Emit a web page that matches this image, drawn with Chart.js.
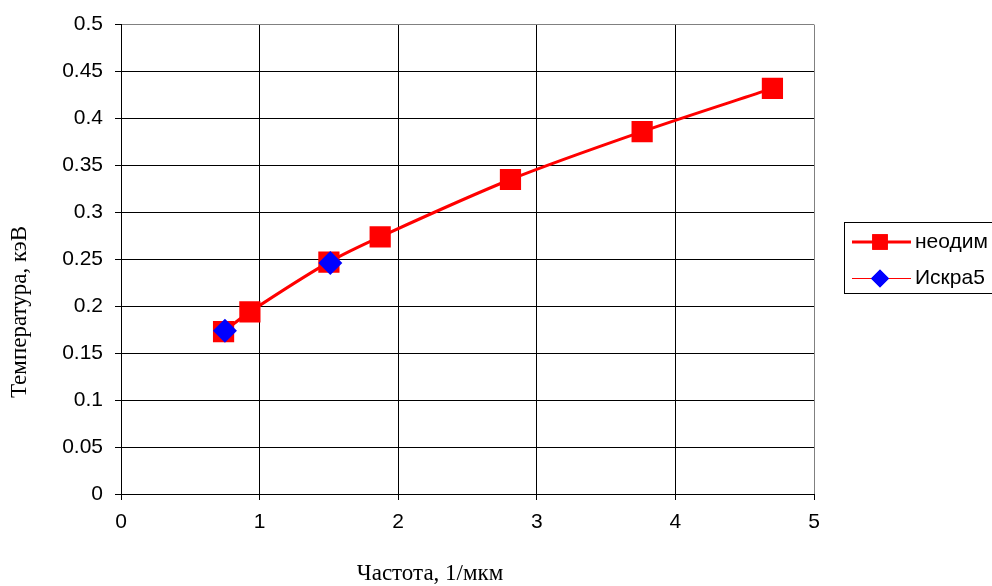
<!DOCTYPE html>
<html>
<head>
<meta charset="utf-8">
<script src="https://cdn.jsdelivr.net/npm/chart.js@4.4.1/dist/chart.umd.min.js"></script>
<style>
  html, body { margin: 0; padding: 0; background: #fff; }
  #wrap { width: 992px; height: 586px; }
</style>
</head>
<body>
<div id="wrap"><canvas id="myChart" width="992" height="586"></canvas></div>
<script>
// Data
const neodimX = [0.74, 0.93, 1.50, 1.87, 2.81, 3.76, 4.70];
const neodimY = [0.173, 0.194, 0.247, 0.274, 0.335, 0.386, 0.432];
const iskraX = [0.75, 1.51];
const iskraY = [0.174, 0.246];

const seriesNames = ['неодим', 'Искра5'];
const xTitle = 'Частота, 1/мкм';
const yTitle = 'Температура, кэВ';

function toPoints(xs, ys) {
  return xs.map((x, i) => ({ x: x, y: ys[i] }));
}

// legend + axis titles drawn by hand (Excel puts them off-centre)
const extras = {
  id: 'extras',
  afterDraw(chart) {
    const ctx = chart.ctx;
    ctx.save();
    ctx.strokeStyle = '#000';
    ctx.lineWidth = 1;
    ctx.strokeRect(844.5, 222.5, 160, 71);

    const rows = [
      { y: 242, lw: 3, style: 'rect', r: 11, color: '#ff0000' },
      { y: 278.5, lw: 1, style: 'rectRot', r: 9, color: '#0000ff' }
    ];
    rows.forEach((row, i) => {
      ctx.strokeStyle = '#ff0000';
      ctx.lineWidth = row.lw;
      ctx.beginPath();
      ctx.moveTo(852, row.y);
      ctx.lineTo(911, row.y);
      ctx.stroke();
      ctx.fillStyle = row.color;
      Chart.helpers.drawPoint(ctx, { pointStyle: row.style, radius: row.r, borderWidth: 0 }, 880, row.y);
      ctx.fill();
      ctx.fillStyle = '#000';
      ctx.font = '21px "Liberation Sans", Arial, sans-serif';
      ctx.textBaseline = 'middle';
      ctx.textAlign = 'left';
      ctx.fillText(seriesNames[i], 915, row.y);
    });

    // axis titles
    ctx.fillStyle = '#000';
    ctx.font = '23px "Liberation Serif", "Times New Roman", serif';
    ctx.textAlign = 'center';
    ctx.textBaseline = 'middle';
    ctx.fillText(xTitle, 430, 574);
    ctx.translate(20, 312);
    ctx.rotate(-Math.PI / 2);
    ctx.fillText(yTitle, 0, 0);
    ctx.restore();
  }
};

const gridColor = ctx => (ctx.tick && ctx.index === ctx.scale.ticks.length - 1) ? '#808080' : '#000';

const ctx = document.getElementById('myChart').getContext('2d');
const chart = new Chart(ctx, {
  type: 'line',
  data: {
    datasets: [
      {
        label: seriesNames[1],
        data: toPoints(iskraX, iskraY),
        // its thin line sits under the thick неодим curve, so only markers show
        showLine: false,
        borderColor: '#ff0000',
        borderWidth: 1,
        backgroundColor: '#0000ff',
        pointBackgroundColor: '#0000ff',
        pointBorderWidth: 0,
        pointStyle: 'rectRot',
        pointRadius: 12,
        order: 0
      },
      {
        label: seriesNames[0],
        data: toPoints(neodimX, neodimY),
        borderColor: '#ff0000',
        borderWidth: 3,
        backgroundColor: '#ff0000',
        pointBackgroundColor: '#ff0000',
        pointBorderWidth: 0,
        pointStyle: 'rect',
        pointRadius: 15,
        tension: 0.3,
        order: 1
      }
    ]
  },
  options: {
    responsive: false,
    animation: false,
    layout: { padding: { left: 0, right: 178, top: 23, bottom: 0 } },
    plugins: {
      legend: { display: false },
      tooltip: { enabled: false }
    },
    scales: {
      x: {
        type: 'linear',
        min: 0,
        max: 5,
        ticks: {
          stepSize: 1,
          color: '#000',
          font: { family: '"Liberation Sans", Arial, sans-serif', size: 21 },
          padding: 10
        },
        grid: { color: gridColor, lineWidth: 1, tickLength: 6, tickColor: '#000' },
        border: { color: '#000', width: 1 },
        title: { display: false },
        afterFit(scale) { scale.height = 92; }
      },
      y: {
        min: 0,
        max: 0.5,
        ticks: {
          stepSize: 0.05,
          color: '#000',
          font: { family: '"Liberation Sans", Arial, sans-serif', size: 21 },
          padding: 12,
          callback: v => String(Number(v.toFixed(2)))
        },
        grid: { color: gridColor, lineWidth: 1, tickLength: 6, tickColor: '#000' },
        border: { color: '#000', width: 1 },
        title: { display: false },
        afterFit(scale) { scale.width = 121; }
      }
    }
  },
  plugins: [extras]
});
</script>
</body>
</html>
